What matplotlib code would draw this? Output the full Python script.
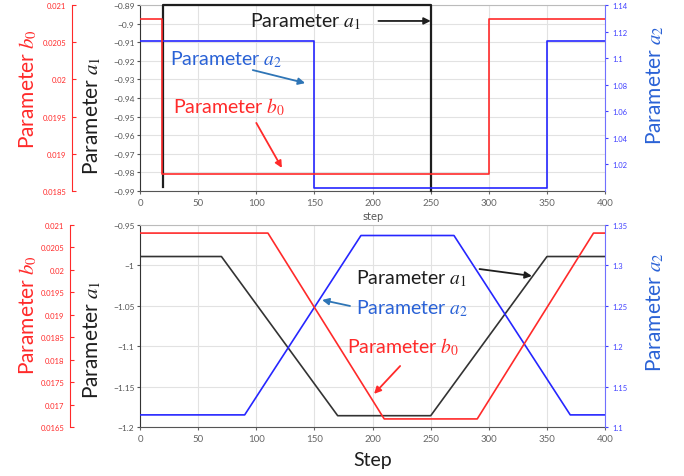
"""
Parameter schedules a1, a2, b0 versus step (two scenarios)
"""

import matplotlib.pyplot as plt

# fonts
plt.rcParams['font.family'] = ['Lato', 'DejaVu Sans']
plt.rcParams['mathtext.fontset'] = 'stix'

# 1. data: top panel (abrupt switching)
top_a1_x = [20, 20, 250, 250]
top_a1_y = [-0.988, -0.89, -0.89, -0.99]
top_a2_x = [0, 150, 150, 350, 350, 400]
top_a2_y = [1.113, 1.113, 1.002, 1.002, 1.113, 1.113]
top_b0_x = [0, 19, 19, 300, 300, 400]
top_b0_y = [0.02081, 0.02081, 0.01873, 0.01873, 0.02081, 0.02081]

# 2. data: bottom panel (ramps)
bot_a1_x = [0, 70, 170, 250, 350, 400]
bot_a1_y = [-0.989, -0.989, -1.186, -1.186, -0.989, -0.989]
bot_a2_x = [0, 90, 190, 270, 370, 400]
bot_a2_y = [1.115, 1.115, 1.337, 1.337, 1.115, 1.115]
bot_b0_x = [0, 110, 210, 290, 390, 400]
bot_b0_y = [0.02082, 0.02082, 0.01668, 0.01668, 0.02082, 0.02082]

x_ticks = [0, 50, 100, 150, 200, 250, 300, 350, 400]
top_a1_ticks = [-0.89, -0.9, -0.91, -0.92, -0.93, -0.94, -0.95, -0.96, -0.97, -0.98, -0.99]
top_a2_ticks = [1.02, 1.04, 1.06, 1.08, 1.1, 1.12, 1.14]
top_b0_ticks = [0.0185, 0.019, 0.0195, 0.02, 0.0205, 0.021]
bot_a1_ticks = [-0.95, -1, -1.05, -1.1, -1.15, -1.2]
bot_a2_ticks = [1.1, 1.15, 1.2, 1.25, 1.3, 1.35]
bot_b0_ticks = [0.0165, 0.017, 0.0175, 0.018, 0.0185, 0.019, 0.0195, 0.02, 0.0205, 0.021]

RED = '#ff2a2a'
BLUE = '#2626ff'
BLUE_TXT = '#2a62d6'
ARROW_BLUE = '#2e75b6'
BLACK = '#1e1e1e'


def fmt(v):
    return ('%g' % v).replace('-', '\u2212')


def make_panel(rect, a1_lim, a2_lim, b0_lim, a1_ticks, a2_ticks, b0_ticks, red_off):
    ax = fig.add_axes(rect)
    ax.set_xlim(0, 400)
    ax.set_ylim(*a1_lim)
    ax.set_xticks(x_ticks)
    ax.set_yticks(a1_ticks)
    ax.set_yticklabels([fmt(t) for t in a1_ticks])
    ax.grid(True, color='#e2e2e2', lw=0.8)
    ax.set_axisbelow(True)
    ax.tick_params(axis='y', labelsize=6, colors='#555555', length=2, pad=2)
    ax.tick_params(axis='x', labelsize=7, colors='#666666', length=2, pad=3)
    ax.spines['left'].set_color('#333333')
    ax.spines['bottom'].set_color('#555555')
    ax.spines['top'].set_color('#bbbbbb')
    ax.spines['right'].set_visible(False)

    # blue axis on the right
    axa2 = ax.twinx()
    axa2.set_ylim(*a2_lim)
    axa2.set_yticks(a2_ticks)
    axa2.set_yticklabels([fmt(t) for t in a2_ticks])
    axa2.tick_params(axis='y', labelsize=5.5, colors='#4040ff', length=2, pad=3)
    axa2.spines['right'].set_color('#7070ff')
    for s in ['left', 'top', 'bottom']:
        axa2.spines[s].set_visible(False)

    # red axis offset on the left
    axb0 = ax.twinx()
    axb0.set_ylim(*b0_lim)
    axb0.yaxis.tick_left()
    axb0.spines['left'].set_position(('axes', red_off))
    axb0.spines['left'].set_color(RED)
    for s in ['right', 'top', 'bottom']:
        axb0.spines[s].set_visible(False)
    axb0.set_yticks(b0_ticks)
    axb0.set_yticklabels([fmt(t) for t in b0_ticks])
    axb0.tick_params(axis='y', labelsize=5.5, colors=RED, direction='in', length=3, pad=4)
    return ax, axa2, axb0


fig = plt.figure(figsize=(6.84, 4.77), dpi=100)

# 3. top panel
ax, axa2, axb0 = make_panel([0.2047, 0.5975, 0.680, 0.390], (-0.99, -0.89), (1.0, 1.14),
                            (0.0185, 0.021), top_a1_ticks, top_a2_ticks, top_b0_ticks, -0.146)
axb0.plot(top_b0_x, top_b0_y, color=RED, lw=1.2)
axa2.plot(top_a2_x, top_a2_y, color=BLUE, lw=1.2)
ax.plot(top_a1_x, top_a1_y, color=BLACK, lw=1.6, clip_on=False, zorder=5)
ax.set_xlabel('step', fontsize=7, color='#555555', family='DejaVu Sans', labelpad=3)

ax.text(94.6, -0.8986, 'Parameter $a_1$', fontsize=14, color=BLACK, va='center', zorder=10)
ax.annotate('', xy=(250, -0.8986), xytext=(205, -0.8986),
            arrowprops=dict(arrowstyle='-|>', color=BLACK, lw=1.3, shrinkA=0, shrinkB=0))
ax.text(25.8, -0.919, 'Parameter $a_2$', fontsize=14, color=BLUE_TXT, va='center')
ax.annotate('', xy=(142, -0.932), xytext=(97, -0.925),
            arrowprops=dict(arrowstyle='-|>', color=ARROW_BLUE, lw=1.3, shrinkA=0, shrinkB=0))
ax.text(28.4, -0.9443, 'Parameter $b_0$', fontsize=14, color=RED, va='center')
ax.annotate('', xy=(122, -0.9776), xytext=(100, -0.9534),
            arrowprops=dict(arrowstyle='-|>', color=RED, lw=1.3, shrinkA=0, shrinkB=0))

fig.text(28 / 684, 1 - 89 / 477, 'Parameter $b_0$', rotation=90, fontsize=15,
         color=RED, ha='center', va='center')
fig.text(92 / 684, 1 - 116 / 477, 'Parameter $a_1$', rotation=90, fontsize=15,
         color=BLACK, ha='center', va='center')
fig.text(655 / 684, 1 - 85 / 477, 'Parameter $a_2$', rotation=90, fontsize=15,
         color=BLUE_TXT, ha='center', va='center')

# 4. bottom panel
ax, axa2, axb0 = make_panel([0.2047, 0.1027, 0.680, 0.4235], (-1.2, -0.95), (1.1, 1.35),
                            (0.0165, 0.021), bot_a1_ticks, bot_a2_ticks, bot_b0_ticks, -0.151)
axb0.plot(bot_b0_x, bot_b0_y, color=RED, lw=1.2)
axa2.plot(bot_a2_x, bot_a2_y, color=BLUE, lw=1.2)
ax.plot(bot_a1_x, bot_a1_y, color='#333333', lw=1.2, zorder=5)
ax.set_xlabel('Step', fontsize=14, color=BLACK, labelpad=6)

ax.text(185.8, -1.0156, 'Parameter $a_1$', fontsize=14, color=BLACK, va='center', zorder=10)
ax.annotate('', xy=(337, -1.0131), xytext=(292, -1.0045),
            arrowprops=dict(arrowstyle='-|>', color=BLACK, lw=1.3, shrinkA=0, shrinkB=0))
ax.text(185.8, -1.0527, 'Parameter $a_2$', fontsize=14, color=BLUE_TXT, va='center', zorder=10)
ax.annotate('', xy=(156.6, -1.0428), xytext=(180.6, -1.0502),
            arrowprops=dict(arrowstyle='-|>', color=ARROW_BLUE, lw=1.3, shrinkA=0, shrinkB=0))
ax.text(178, -1.0997, 'Parameter $b_0$', fontsize=14, color=RED, va='center', zorder=10)
ax.annotate('', xy=(201.3, -1.159), xytext=(223.7, -1.1245),
            arrowprops=dict(arrowstyle='-|>', color=RED, lw=1.3, shrinkA=0, shrinkB=0))

fig.text(28 / 684, 1 - 315 / 477, 'Parameter $b_0$', rotation=90, fontsize=15,
         color=RED, ha='center', va='center')
fig.text(92 / 684, 1 - 340 / 477, 'Parameter $a_1$', rotation=90, fontsize=15,
         color=BLACK, ha='center', va='center')
fig.text(655 / 684, 1 - 312 / 477, 'Parameter $a_2$', rotation=90, fontsize=15,
         color=BLUE_TXT, ha='center', va='center')

fig.savefig('out.png', dpi=100)
